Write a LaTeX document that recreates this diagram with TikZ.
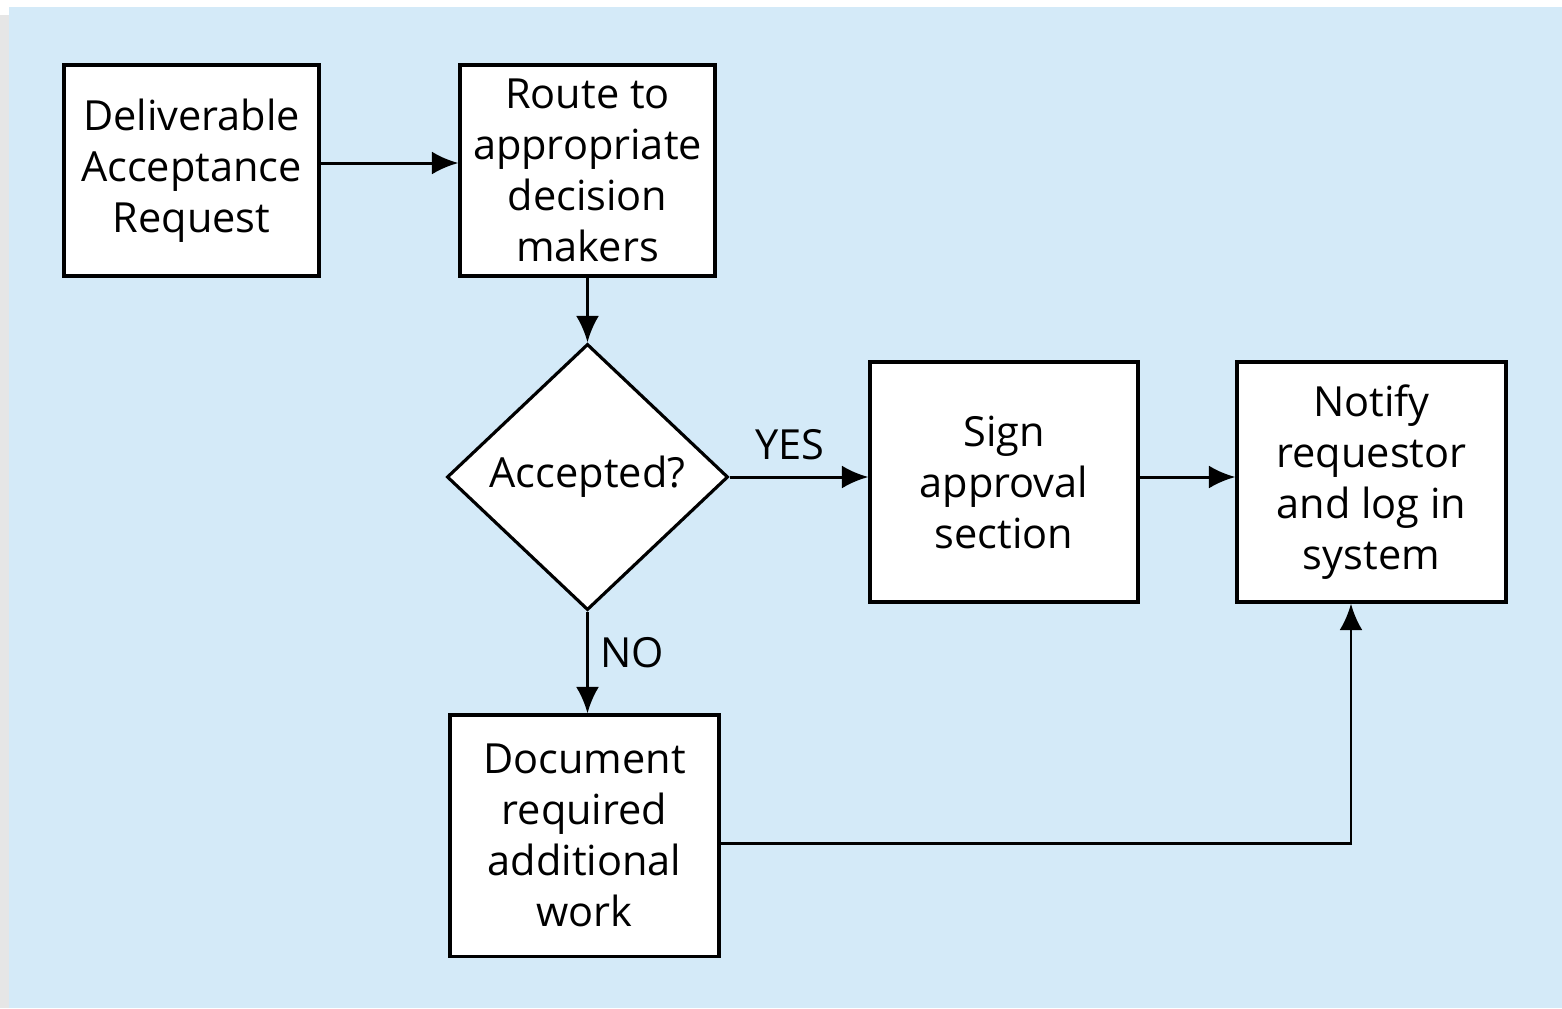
\documentclass[tikz,border=0pt]{standalone}
\usepackage{fontspec}
\setmainfont{Open Sans}
\usetikzlibrary{shapes.geometric,arrows.meta}

\definecolor{panel}{HTML}{D4EAF8}
\definecolor{strip}{HTML}{E6E6E6}

\tikzset{
    stepbox/.style={draw, fill=white, line width=0.9pt, align=center, inner sep=0pt,
        font=\fontsize{11.8}{14.5}\selectfont},
    choice/.style={draw, fill=white, diamond, line width=0.9pt, inner sep=0pt,
        minimum width=2.81cm, minimum height=2.66cm, font=\fontsize{11.8}{14.5}\selectfont},
    flow/.style={line width=0.85pt, -{Latex[length=7.5pt,width=6.5pt]}},
    tag/.style={font=\fontsize{11.8}{14.5}\selectfont, inner sep=1pt},
}

\begin{document}
\begin{tikzpicture}[x=0.01cm, y=-0.01cm]
        \useasboundingbox (0, 0) rectangle (1562, 1008);
        \fill[white] (0, 0) rectangle (1562, 1008);
        \fill[strip] (0, 15) rectangle (9, 1008);
        \fill[panel] (9, 7) rectangle (1562, 1008);

        \node[stepbox, minimum width=2.55cm, minimum height=2.11cm] (request) at (191.5, 170.5) {Deliverable\\Acceptance\\Request};
        \node[stepbox, minimum width=2.55cm, minimum height=2.11cm] (route) at (587.5, 170.5) {Route to\\appropriate\\decision\\makers};
        \node[choice] (accepted) at (587.5, 477) {Accepted?};
        \node[stepbox, minimum width=2.68cm, minimum height=2.40cm] (sign) at (1004, 482) {Sign\\approval\\section};
        \node[stepbox, minimum width=2.69cm, minimum height=2.40cm] (notify) at (1371.5, 482) {Notify\\requestor\\and log in\\system};
        \node[stepbox, minimum width=2.69cm, minimum height=2.41cm] (document) at (584.5, 835.5) {Document\\required\\additional\\work};

        \coordinate (corner) at (1351, 843);

        \draw[flow] (request.east |- 0, 163) -- (route.west |- 0, 163);
        \draw[flow] (route) -- (accepted);
        \draw[flow] (accepted.east) -- (sign.west |- accepted.east);
        \draw[flow] (sign.east |- accepted.east) -- (notify.west |- accepted.east);
        \draw[flow] (accepted.south) -- (document.north -| accepted.south);
        \draw[flow] (document.east |- corner) -- (corner) -- (notify.south -| corner);

        \node[tag] (yes) at (790, 445) {YES};
        \node[tag] (no) at (632, 653) {NO};
    \end{tikzpicture}
\end{document}
